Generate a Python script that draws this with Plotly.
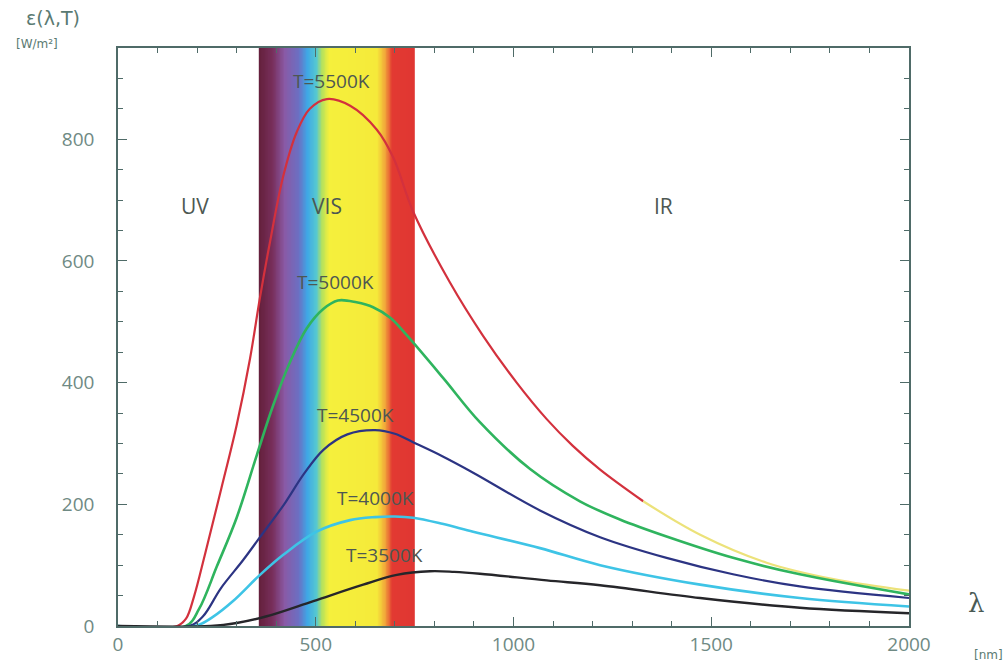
import numpy as np
import plotly.graph_objects as go

# ---- data ----
wl_5500 = [0, 150, 172, 192, 220, 262, 300, 334, 359, 384, 418, 452, 485, 528, 587, 654, 696, 747, 839, 923, 1008, 1084, 1150, 1219, 1328, 1472, 1640, 1809, 2000]
E_5500  = [0, 0, 12, 48, 118, 228, 330, 440, 540, 630, 740, 812, 850, 866, 855, 816, 770, 680, 565, 477, 400, 340, 296, 257, 205, 150, 104, 77, 58]

wl_5000 = [0, 172, 205, 250, 300, 351, 392, 435, 477, 519, 556, 603, 645, 690, 730, 823, 915, 1042, 1168, 1269, 1387, 1555, 1724, 2000]
E_5000  = [0, 0, 28, 98, 178, 281, 362, 434, 489, 521, 535, 532, 524, 506, 478, 407, 335, 258, 205, 175, 147, 112, 85, 52]

wl_4500 = [0, 180, 215, 260, 316, 359, 420, 470, 520, 580, 650, 700, 746, 820, 898, 1067, 1219, 1387, 1555, 1724, 2000]
E_4500  = [0, 0, 16, 62, 108, 146, 200, 250, 290, 315, 322, 316, 302, 279, 252, 190, 146, 112, 85, 65, 46]

wl_4000 = [0, 195, 240, 291, 359, 418, 502, 587, 650, 700, 746, 820, 898, 1067, 1219, 1472, 1724, 2000]
E_4000  = [0, 0, 15, 41, 84, 117, 155, 174, 179, 180, 178, 168, 155, 128, 100, 68, 46, 32]

wl_3500 = [0, 235, 300, 376, 494, 620, 705, 789, 850, 915, 1084, 1219, 1472, 1724, 2000]
E_3500  = [0, 0, 5, 16, 41, 68, 84, 90, 89, 86, 75, 67, 46, 30, 21]

curve_labels = ["T=5500K", "T=5000K", "T=4500K", "T=4000K", "T=3500K"]
label_pos_nm = [540, 550, 600, 650, 675]
label_pos_E = [895, 566, 346, 211, 116]

region_labels = ["UV", "VIS", "IR"]
region_pos_nm = [195, 528, 1378]
region_pos_E = 690

vis_band = [356, 750]
vis_stops_nm = [356, 390, 420, 455, 478, 500, 515, 532, 655, 675, 692, 750]
vis_stops_col = ["#64203c", "#782f5c", "#8a5aa6", "#6d6fc2", "#3fa8e6", "#55c8d2",
                 "#b4e25e", "#f5f03c", "#f5ea3a", "#f2a33a", "#e23a32", "#e03632"]

x_ticks = [0, 500, 1000, 1500, 2000]
y_ticks = [0, 200, 400, 600, 800]

# ---- figure ----
fig = go.Figure()

# visible spectrum band as a smooth heatmap
edges = np.arange(vis_band[0], vis_band[1] + 1, 2)
centers = (edges[:-1] + edges[1:]) / 2
span = vis_band[1] - vis_band[0]
cscale = [[(s - vis_band[0]) / span, c] for s, c in zip(vis_stops_nm, vis_stops_col)]
fig.add_trace(go.Heatmap(x=edges, y=[0, 950], z=[list(centers)],
                         colorscale=cscale, zmin=vis_band[0], zmax=vis_band[1],
                         showscale=False, hoverinfo="skip", zsmooth="best"))

def add_curve(x, y, color, width=2.2):
    fig.add_trace(go.Scatter(x=x, y=y, mode="lines",
                             line=dict(color=color, width=width, shape="spline", smoothing=1.0),
                             showlegend=False, hoverinfo="skip"))

split = wl_5500.index(1328)
add_curve(wl_5500[:split + 1], E_5500[:split + 1], "#d3313d", 2.2)
add_curve(wl_5500[split:], E_5500[split:], "#ece27a", 2.2)
add_curve(wl_5000, E_5000, "#2fb45e", 2.6)
add_curve(wl_4500, E_4500, "#2c3483", 2.2)
add_curve(wl_4000, E_4000, "#3ec4e6", 2.6)
add_curve(wl_3500, E_3500, "#26262a", 2.4)

txtcol = "#4d5752"
for lab, xx, yy in zip(curve_labels, label_pos_nm, label_pos_E):
    fig.add_annotation(x=xx, y=yy, text=lab, showarrow=False,
                       font=dict(family="Open Sans, DejaVu Sans", size=19, color=txtcol))
for lab, xx in zip(region_labels, region_pos_nm):
    fig.add_annotation(x=xx, y=region_pos_E, text=lab, showarrow=False,
                       font=dict(family="Open Sans, DejaVu Sans", size=21, color=txtcol))

# axis titles
fig.add_annotation(xref="paper", yref="paper", x=-0.082, y=1.075, text="ε(λ,T)", showarrow=False,
                   xanchor="center", font=dict(family="DejaVu Sans", size=19, color="#5a7a72"))
fig.add_annotation(xref="paper", yref="paper", x=-0.102, y=1.022, text="[W/m²]", showarrow=False,
                   xanchor="center", font=dict(family="DejaVu Sans", size=12, color="#5a7a72"))
fig.add_annotation(xref="paper", yref="paper", x=1.085, y=0.01, text="λ", showarrow=False,
                   xanchor="center", font=dict(family="DejaVu Serif", size=26, color="#4a5a55"))
fig.add_annotation(xref="paper", yref="paper", x=1.1, y=-0.065, text="[nm]", showarrow=False,
                   xanchor="center", font=dict(family="DejaVu Sans", size=12, color="#5a7a72"))

axis_col = "#4f6b68"
fig.update_xaxes(range=[0, 2000], tickvals=x_ticks, ticks="inside", ticklen=9, tickwidth=1.2,
                 tickcolor=axis_col, showline=True, linecolor=axis_col, linewidth=1.5, mirror="ticks",
                 showgrid=False, zeroline=False,
                 minor=dict(dtick=100, ticks="inside", ticklen=5, tickcolor=axis_col, showgrid=False),
                 tickfont=dict(family="Open Sans, DejaVu Sans", size=19, color="#6f8a84"))
fig.update_yaxes(range=[0, 950], tickvals=y_ticks, ticks="inside", ticklen=9, tickwidth=1.2,
                 tickcolor=axis_col, showline=True, linecolor=axis_col, linewidth=1.5, mirror="ticks",
                 showgrid=False, zeroline=False, ticklabelstandoff=18,
                 minor=dict(dtick=50, ticks="inside", ticklen=5, tickcolor=axis_col, showgrid=False),
                 tickfont=dict(family="Open Sans, DejaVu Sans", size=19, color="#6f8a84"))

fig.update_layout(width=1007, height=669, margin=dict(l=118, r=98, t=48, b=41),
                  plot_bgcolor="white", paper_bgcolor="white", showlegend=False)

fig.write_html("out.html")
